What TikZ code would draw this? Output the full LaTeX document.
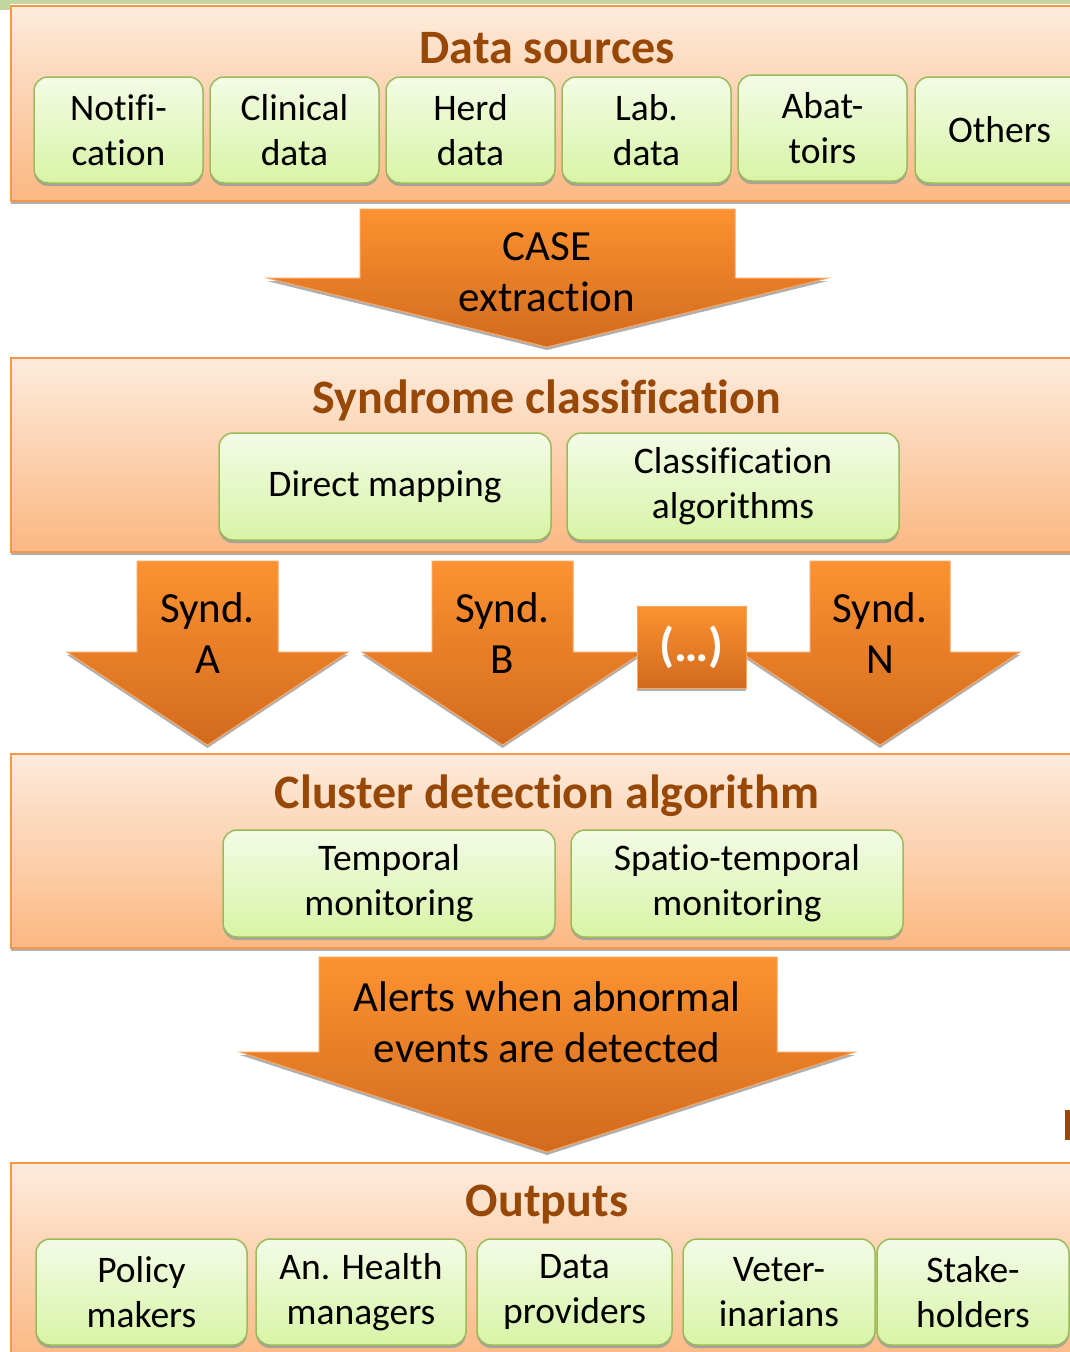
\documentclass[tikz,border=0pt]{standalone}
\usepackage{fontspec}
\setmainfont{Carlito}[Ligatures={NoCommon}]
\usepackage{xcolor}
\usetikzlibrary{positioning, shadows}

\definecolor{panelTop}{RGB}{253,235,220}
\definecolor{panelBot}{RGB}{251,184,130}
\definecolor{panelLine}{RGB}{247,150,70}
\definecolor{boxTop}{RGB}{243,251,230}
\definecolor{boxBot}{RGB}{216,244,166}
\definecolor{boxLine}{RGB}{155,187,89}
\definecolor{arrowTop}{RGB}{252,146,48}
\definecolor{arrowBot}{RGB}{210,106,30}
\definecolor{arrowLine}{RGB}{249,165,95}
\definecolor{titleBrown}{RGB}{152,72,6}
\definecolor{stripGreen}{RGB}{196,214,160}

\begin{document}
\begin{tikzpicture}[x=1pt, y=-1pt,
		% Define styles
		panel/.style={
			rectangle,
			draw=panelLine,
			line width=2pt,
			top color=panelTop,
			bottom color=panelBot,
			anchor=north west,
			inner sep=0pt,
			drop shadow={shadow xshift=0pt, shadow yshift=-3pt, fill=gray!70, opacity=0.9}
		},
		panel title/.style={
			font=\bfseries\fontsize{48}{57}\selectfont,
			text=titleBrown
		},
		green box/.style={
			rectangle,
			draw=boxLine,
			line width=1.5pt,
			rounded corners=14pt,
			top color=boxTop,
			bottom color=boxBot,
			font=\fontsize{37.5}{45}\selectfont,
			align=center,
			inner sep=0pt,
			minimum height=106pt,
			drop shadow={shadow xshift=0pt, shadow yshift=-3pt, fill=gray!75, opacity=0.9}
		},
		% Define arrow style
		fat arrow/.style={
			draw=arrowLine,
			line width=1pt,
			top color=arrowTop,
			bottom color=arrowBot,
			drop shadow={shadow xshift=0pt, shadow yshift=-3pt, fill=gray!70, opacity=0.9}
		},
		arrow text/.style={
			font=\fontsize{43}{51}\selectfont,
			align=center
		}
		]
		
		\useasboundingbox (0,0) rectangle (1070,1352);
		\clip (0,0) rectangle (1070,1352);
		
		% ----- Top strip -----
		\fill[stripGreen] (0,0) rectangle (1070,4);
		\fill[stripGreen] (0,0) rectangle (10,10);
		
		% ----- Data sources -----
		\node[panel, minimum width=1080pt, minimum height=195pt] (sources) at (10,5) {};
		\node[panel title] (sources-title) at (547,48) {Data sources};
		
		\node[green box, minimum width=169pt] (notif) at (118.5,130) {Notifi-\\cation};
		\node[green box, minimum width=169pt] (clinical) at (294.5,130) {Clinical\\data};
		\node[green box, minimum width=169pt] (herd) at (470.5,130) {Herd\\data};
		\node[green box, minimum width=169pt] (lab) at (646.5,130) {Lab.\\data};
		\node[green box, minimum width=169pt] (abattoirs) at (822.5,128) {Abat-\\toirs};
		\node[green box, minimum width=169pt] (others) at (999.5,130) {Others};
		
		% ----- CASE extraction -----
		\draw[fat arrow] (360,209) -- (735,209) -- (735,278) -- (828,278) -- (547,347)
			-- (267,278) -- (360,278) -- cycle;
		\node[arrow text] (case) at (547,272.5) {CASE\\extraction};
		
		% ----- Syndrome classification -----
		\node[panel, minimum width=1080pt, minimum height=194pt] (syndrome) at (10,357) {};
		\node[panel title] (syndrome-title) at (547,400) {Syndrome classification};
		
		\node[green box, minimum width=332pt, minimum height=107pt] (mapping) at (385,486.5) {Direct mapping};
		\node[green box, minimum width=332pt, minimum height=107pt] (classif) at (733,486.5) {Classification\\algorithms};
		
		% ----- Syndrome arrows -----
		\draw[fat arrow] (137,561) -- (278,561) -- (278,652) -- (348,652) -- (207.5,745)
			-- (67,652) -- (137,652) -- cycle;
		\node[arrow text] (synd-a) at (207.5,633.5) {Synd.\\A};
		
		\draw[fat arrow] (432,561) -- (573,561) -- (573,652) -- (643,652) -- (502.5,745)
			-- (362,652) -- (432,652) -- cycle;
		\node[arrow text] (synd-b) at (502.5,633.5) {Synd.\\B};
		
		\draw[fat arrow] (810,561) -- (950,561) -- (950,652) -- (1020,652) -- (880,745)
			-- (740,652) -- (810,652) -- cycle;
		\node[arrow text] (synd-n) at (880,633.5) {Synd.\\N};
		
		\node[rectangle, draw=arrowLine, line width=1pt, top color=arrowTop, bottom color=arrowBot,
			minimum width=109pt, minimum height=82pt, inner sep=0pt,
			drop shadow={shadow xshift=0pt, shadow yshift=-3pt, fill=gray!70, opacity=0.9},
			text=white, font=\bfseries\fontsize{48}{54}\selectfont] (more) at (691.5,647) {(\ldots)};
		
		% ----- Cluster detection algorithm -----
		\node[panel, minimum width=1080pt, minimum height=194pt] (cluster) at (10,753) {};
		\node[panel title] (cluster-title) at (547,796) {Cluster detection algorithm};
		
		\node[green box, minimum width=332pt, minimum height=107pt] (temporal) at (389,883.5) {Temporal\\monitoring};
		\node[green box, minimum width=332pt, minimum height=107pt] (spatio) at (737,883.5) {Spatio-temporal\\monitoring};
		
		% ----- Alerts -----
		\draw[fat arrow] (319,957) -- (777,957) -- (777,1052) -- (855,1052) -- (547,1152)
			-- (240,1052) -- (319,1052) -- cycle;
		\node[arrow text] (alerts) at (547,1022) {Alerts when abnormal\\events are detected};
		
		\fill[titleBrown] (1065,1110) rectangle (1070,1140);
		
		% ----- Outputs -----
		\node[panel, minimum width=1080pt, minimum height=200pt] (outputs) at (10,1162) {};
		\node[panel title] (outputs-title) at (547,1205) {Outputs};
		
		\node[green box, minimum width=211pt] (policy) at (141.5,1292) {Policy\\makers};
		\node[green box, minimum width=210pt] (health) at (361,1292) {An. Health\\managers};
		\node[green box, minimum width=195pt] (providers) at (574.5,1292) {Data\\providers};
		\node[green box, minimum width=192pt] (vets) at (779,1292) {Veter-\\inarians};
		\node[green box, minimum width=192pt] (stake) at (973,1292) {Stake-\\holders};
		
	\end{tikzpicture}
\end{document}
